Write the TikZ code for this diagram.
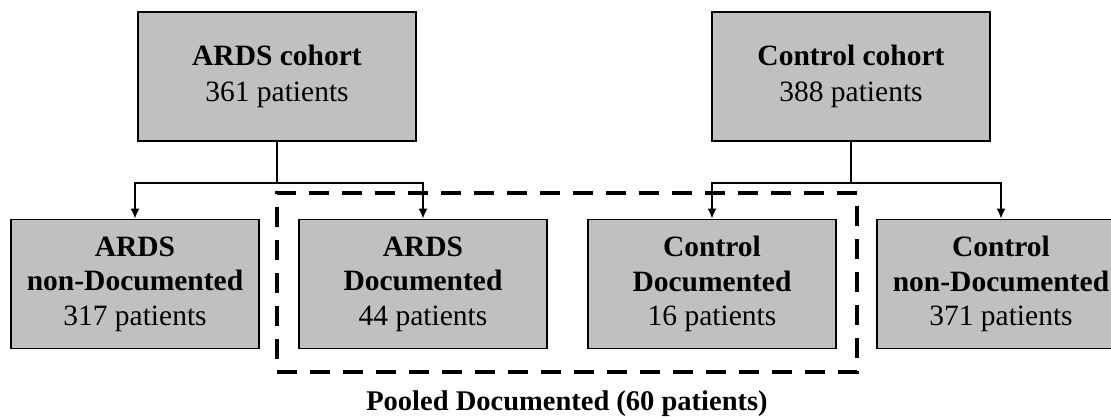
\documentclass[tikz,border=0pt]{standalone}
\usepackage{fontspec}
\setmainfont{Liberation Serif}
\usetikzlibrary{arrows.meta}
\definecolor{boxgray}{HTML}{C0C0C0}
\tikzset{
  cohort/.style={draw=black, line width=1.2pt, fill=boxgray, minimum width=278pt, minimum height=129pt, align=center, inner sep=0pt, font=\fontsize{29.5}{36}\selectfont},
  subbox/.style={draw=black, line width=1.2pt, fill=boxgray, minimum width=248pt, minimum height=129.5pt, align=center, inner sep=0pt, font=\fontsize{29.5}{34.5}\selectfont},
  conn/.style={line width=1.8pt, black},
  arr/.style={conn, -{Latex[length=10pt,width=9pt]}},
  pooled/.style={draw=black, line width=4pt, dash pattern=on 20pt off 13pt, minimum width=580pt, minimum height=179pt, inner sep=0pt},
  caption/.style={font=\fontsize{28.5}{34}\selectfont\bfseries, inner sep=0pt}
}
\begin{document}
\begin{tikzpicture}[x=1pt, y=-1pt]
\useasboundingbox (0,0) rectangle (1111,420);
\node[pooled] (pool) at (567,282.5) {};
\node[cohort] (ardsc) at (277,76.5) {\textbf{ARDS cohort}\\361 patients};
\node[cohort] (ctrlc) at (851,76.5) {\textbf{Control cohort}\\388 patients};
\node[subbox] (ardsnd) at (135,284) {\textbf{ARDS}\\\textbf{non-Documented}\\317 patients};
\node[subbox] (ardsd) at (423,284) {\textbf{ARDS}\\\textbf{Documented}\\44 patients};
\node[subbox] (ctrld) at (712,284) {\textbf{Control}\\\textbf{Documented}\\16 patients};
\node[subbox] (ctrlnd) at (1001,284) {\textbf{Control}\\\textbf{non-Documented}\\371 patients};
\node[caption, anchor=base] (cap) at (567,410) {Pooled Documented (60 patients)};
\draw[conn] (ardsc.south) -- ++(0,41) coordinate (ja);
\draw[arr] (ja) -| (ardsnd.north);
\draw[arr] (ja) -| (ardsd.north);
\draw[conn] (ctrlc.south) -- ++(0,41) coordinate (jc);
\draw[arr] (jc) -| (ctrld.north);
\draw[arr] (jc) -| (ctrlnd.north);
\end{tikzpicture}
\end{document}
